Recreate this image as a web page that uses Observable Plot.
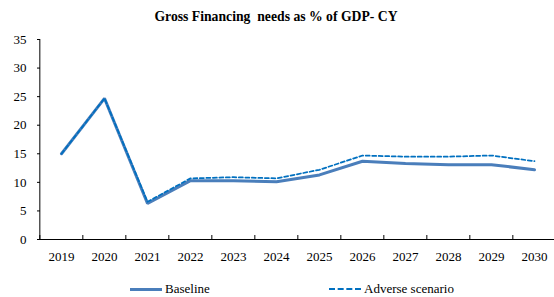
<!DOCTYPE html>
<html>
<head>
<meta charset="utf-8">
<script src="https://cdn.jsdelivr.net/npm/d3@7"></script>
<script src="https://cdn.jsdelivr.net/npm/@observablehq/plot@0.6"></script>
<style>
  html, body { margin: 0; padding: 0; background: #fff; }
  #wrap { position: relative; width: 554px; height: 297px; overflow: hidden; font-family: "Liberation Serif", "DejaVu Serif", serif; }
  #title { position: absolute; left: 0; width: 552px; top: 9px; text-align: center; font-weight: bold; font-size: 13.7px; white-space: pre; color: #000; font-family: "Liberation Serif", "DejaVu Serif", serif; }
  .leg { position: absolute; top: 281px; font-size: 13px; line-height: 15px; color: #000; white-space: nowrap; font-family: "Liberation Serif", "DejaVu Serif", serif; }
  .sw { display: inline-block; width: 32px; height: 0; vertical-align: middle; margin-right: 3px; position: relative; top: -1px; }
  #plot { position: absolute; left: 0; top: 0; }
  #plot svg, #plot svg text { font-family: "Liberation Serif", "DejaVu Serif", serif !important; }
</style>
</head>
<body>
<div id="wrap">
  <div id="plot"></div>
  <div id="title"></div>
  <div class="leg" style="left:130px"><span class="sw" style="border-top:3px solid #4A7EBB"></span><span id="l1"></span></div>
  <div class="leg" style="left:329px"><span class="sw" style="width:32px;border-top:2px dashed #0070C0"></span><span id="l2"></span></div>
</div>
<script>
const title = "Gross Financing  needs as % of GDP- CY";
const years = ["2019","2020","2021","2022","2023","2024","2025","2026","2027","2028","2029","2030"];
const baseline = [15.0, 24.7, 6.3, 10.3, 10.3, 10.1, 11.3, 13.7, 13.3, 13.1, 13.1, 12.2];
const adverse  = [15.0, 24.7, 6.6, 10.7, 10.9, 10.7, 12.2, 14.7, 14.5, 14.5, 14.7, 13.7];
const seriesNames = ["Baseline", "Adverse scenario"];
const yTicks = [0, 5, 10, 15, 20, 25, 30, 35];

document.getElementById("title").textContent = title;
document.getElementById("l1").textContent = seriesNames[0];
document.getElementById("l2").textContent = seriesNames[1];

const rows = [];
years.forEach((y, i) => {
  rows.push({year: y, value: baseline[i], series: seriesNames[0]});
  rows.push({year: y, value: adverse[i], series: seriesNames[1]});
});

const x0 = 37, x1 = 557;
const step = (x1 - x0) / years.length;

const chart = Plot.plot({
  width: 554,
  height: 297,
  marginTop: 39,
  marginBottom: 58,
  marginLeft: 37,
  marginRight: 0,
  style: {fontFamily: "'Liberation Serif', 'DejaVu Serif', serif", fontSize: "13px", color: "#000", background: "transparent", overflow: "visible"},
  x: {type: "point", domain: years, range: [x0, x1], padding: 0.5, label: null},
  y: {domain: [0, 35], range: [239, 39], label: null},
  marks: [
    Plot.axisY({ticks: yTicks, tickSize: 0, tickPadding: 11, fontSize: 13, label: null}),
    Plot.axisY({ticks: yTicks, tickSize: -3, tickFormat: () => "", stroke: "#000", label: null}),
    Plot.axisX({tickSize: 0, tickPadding: 12, fontSize: 13, label: null}),
    Plot.axisX({ticks: years, tickSize: -4, tickFormat: () => "", dx: -step / 2, stroke: "#000", label: null}),
    Plot.ruleY([0], {stroke: "#000", strokeWidth: 1}),
    Plot.ruleX([years[0]], {y1: 0, y2: 35, dx: -step / 2, stroke: "#000", strokeWidth: 1}),
    Plot.line(rows.filter(d => d.series === seriesNames[0]), {x: "year", y: "value", stroke: "#4A7EBB", strokeWidth: 3, strokeLinejoin: "miter"}),
    Plot.line(rows.filter(d => d.series === seriesNames[1]), {x: "year", y: "value", stroke: "#0070C0", strokeWidth: 1.75, strokeDasharray: "4,2.5"})
  ]
});
document.getElementById("plot").appendChild(chart);
</script>
</body>
</html>
